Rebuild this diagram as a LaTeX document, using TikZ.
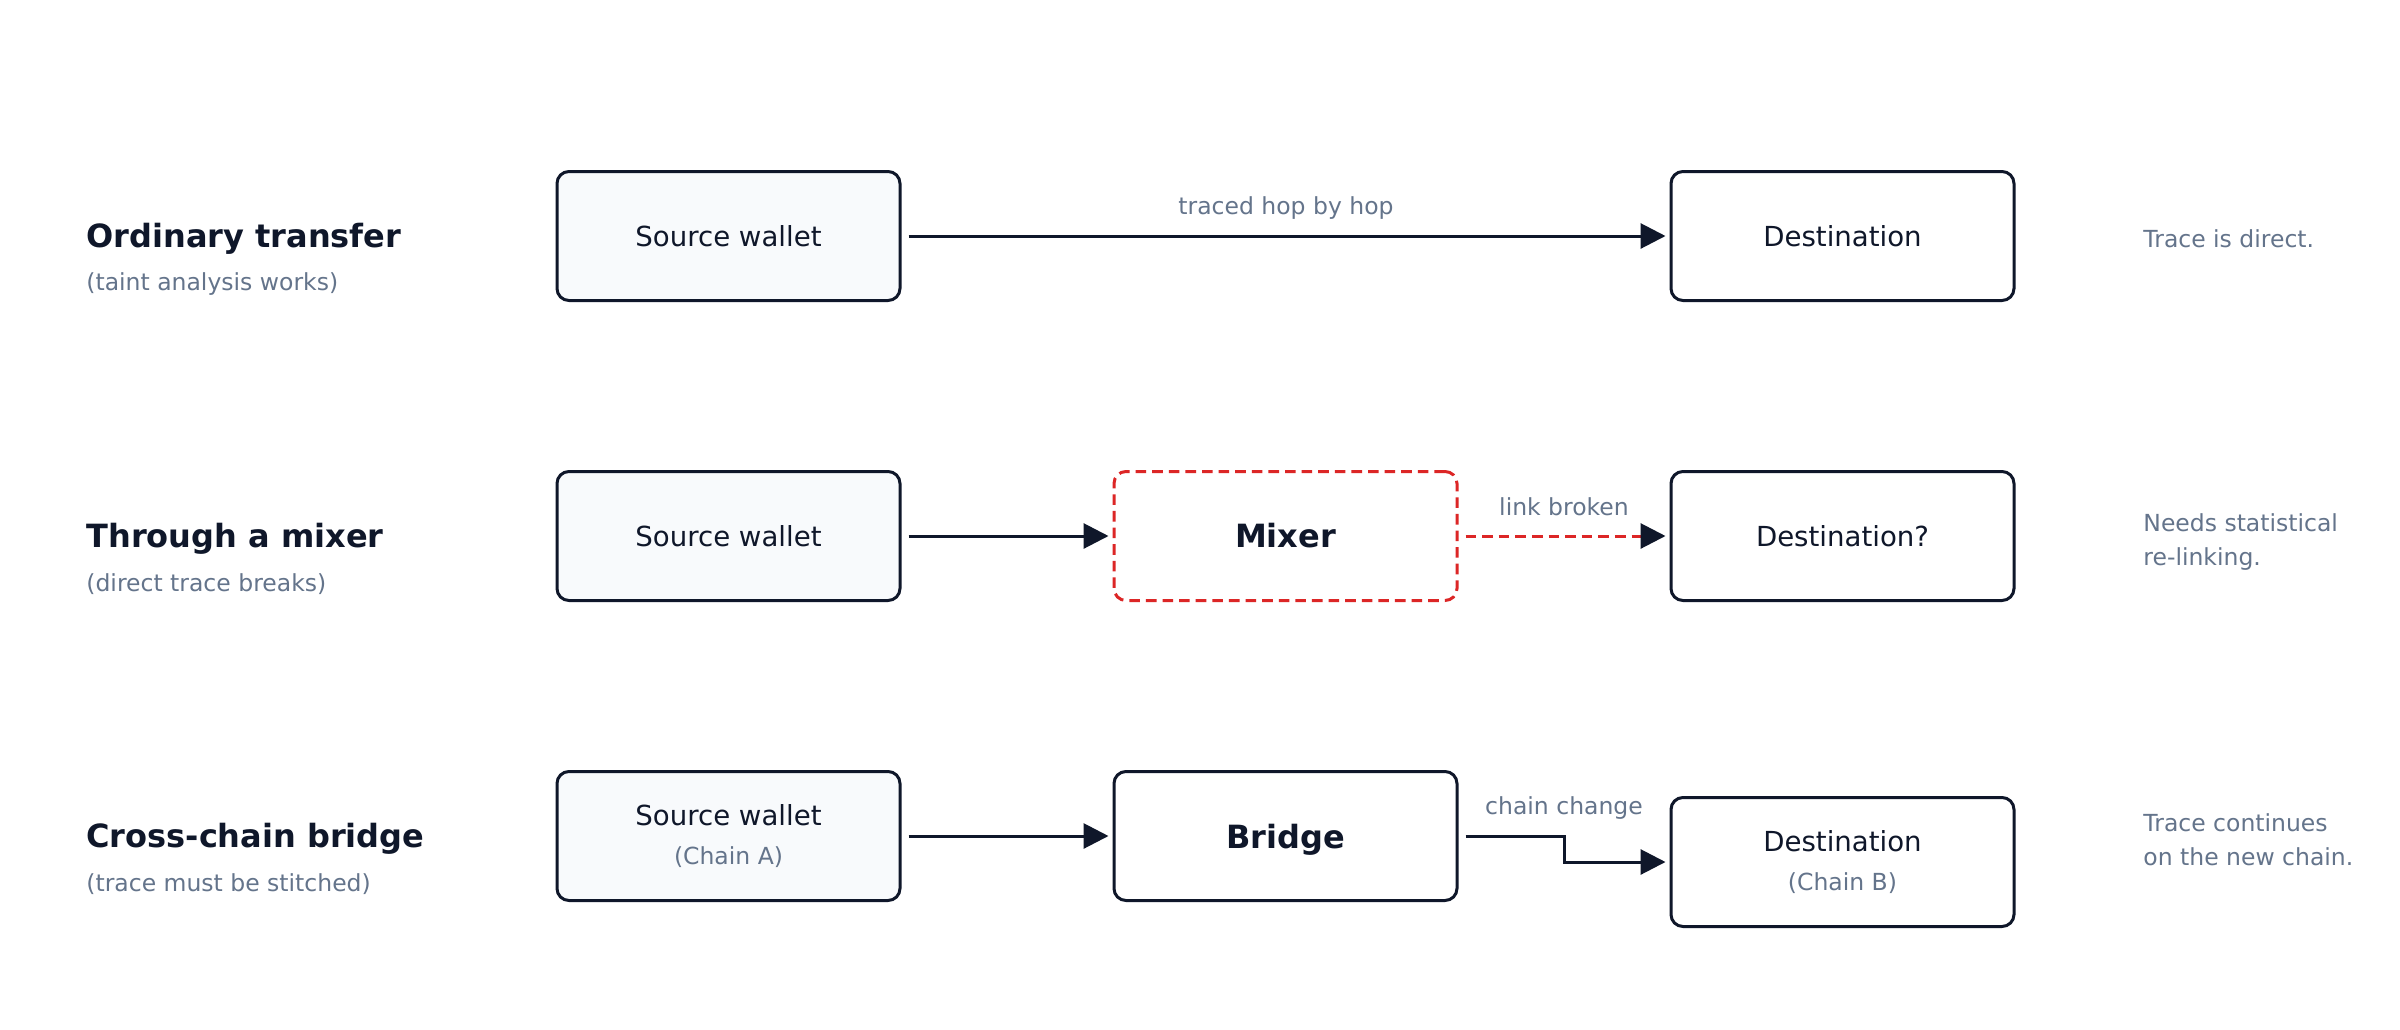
\documentclass[tikz,border=0pt]{standalone}
\usepackage{fontspec}
\setmainfont{DejaVu Sans}
\usetikzlibrary{arrows.meta}
\definecolor{ink}{HTML}{0F172A}
\definecolor{muted}{HTML}{64748B}
\definecolor{soft}{HTML}{F8FAFC}
\definecolor{alert}{HTML}{DC2626}
\newcommand{\fsBig}{\fontsize{16}{20}\selectfont}
\newcommand{\fsBox}{\fontsize{13.8}{20}\selectfont}
\newcommand{\fsSmall}{\fontsize{11.75}{17}\selectfont}
\begin{document}
\begin{tikzpicture}[x=0.5pt,y=-0.5pt,
 nbox/.style={draw=ink, line width=1.5pt, rounded corners=6pt, minimum width=171.5pt, minimum height=64.5pt, fill=white, text=ink, font=\fsBox, align=center, inner sep=0pt},
 srcbox/.style={nbox, fill=soft},
 mixbox/.style={nbox, draw=alert, dash pattern=on 5.3pt off 3pt, font=\fsBig\bfseries},
 bridgebox/.style={nbox, font=\fsBig\bfseries, text depth=0pt},
 rowtitle/.style={anchor=west, text=ink, font=\fsBig\bfseries, inner sep=0pt},
 rowsub/.style={anchor=west, text=muted, font=\fsSmall, inner sep=0pt},
 rownote/.style={anchor=west, text=muted, font=\fsSmall, align=left, inner sep=0pt},
 lbl/.style={text=muted, font=\fsSmall, inner sep=0pt},
 arr/.style={draw=ink, line width=1.5pt, -{Triangle[length=12.5pt,width=12.5pt,color=ink]}, shorten <=3.5pt, shorten >=2pt},
 brokenarr/.style={arr, draw=alert, dash pattern=on 5.3pt off 3pt},
]
\fill[white] (0,0) rectangle (2400,1029);
\path[use as bounding box] (0,0) rectangle (2400,1029);

% Row 1
\node[rowtitle] (t1) at (86,239) {Ordinary transfer};
\node[rowsub] (s1) at (86,284) {(taint analysis works)};
\node[srcbox] (src1) at (728.5,236) {Source wallet};
\node[nbox] (dst1) at (1842.5,236) {Destination};
\node[rownote] (n1) at (2143,239) {Trace is direct.};
\draw[arr] (src1) -- (dst1);
\node[lbl] (l1) at (1286,208) {traced hop by hop};

% Row 2
\node[rowtitle] (t2) at (86,539) {Through a mixer};
\node[rowsub] (s2) at (86,584) {(direct trace breaks)};
\node[srcbox] (src2) at (728.5,536) {Source wallet};
\node[mixbox] (mix) at (1285.5,536) {Mixer};
\node[nbox] (dst2) at (1842.5,536) {Destination?};
\node[rownote] (n2) at (2143,542) {Needs statistical\\re-linking.};
\draw[arr] (src2) -- (mix);
\draw[brokenarr] (mix) -- (dst2);
\node[lbl] (l2) at (1564,507) {link broken};

% Row 3
\node[rowtitle] (t3) at (86,839) {Cross-chain bridge};
\node[rowsub] (s3) at (86,884) {(trace must be stitched)};
\node[srcbox] (src3) at (728.5,836) {Source wallet\\[-0.5pt]{\fsSmall\color{muted}(Chain A)}};
\node[bridgebox] (bridge) at (1285.5,836) {Bridge};
\node[nbox] (dst3) at (1842.5,862) {Destination\\[-0.5pt]{\fsSmall\color{muted}(Chain B)}};
\node[rownote] (n3) at (2143,840) {Trace continues\\on the new chain.};
\draw[arr] (src3) -- (bridge);
\coordinate (k1) at (1564,836);
\coordinate (k2) at (1564,862);
\draw[arr] (bridge.east) -- (k1) -- (k2) -- (dst3.west);
\node[lbl] (l3) at (1564,808) {chain change};
\end{tikzpicture}
\end{document}
